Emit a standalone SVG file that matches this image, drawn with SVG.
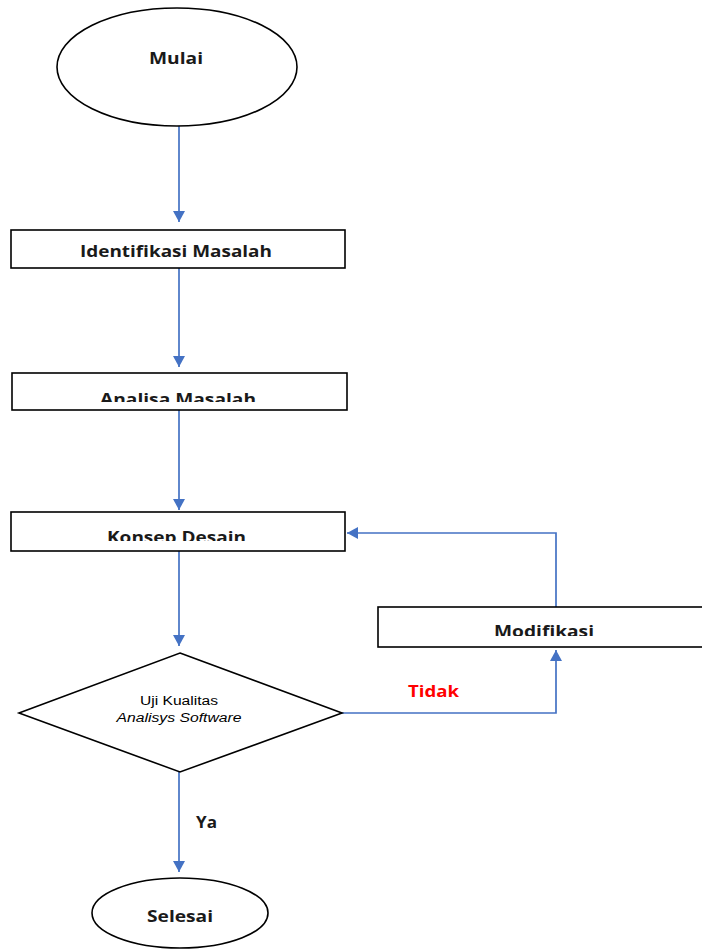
<svg xmlns="http://www.w3.org/2000/svg" width="702" height="951" viewBox="0 0 702 951">
<style>
.shape{fill:#fff;stroke:#000;stroke-width:1.6}
.lbl{font-family:"Open Sans","Liberation Sans",sans-serif;font-weight:700;font-size:16.5px;fill:#1a1a1a;text-anchor:middle}
.small{font-family:"Liberation Sans",Arial,sans-serif;font-size:12px;fill:#000;text-anchor:middle}
.conn{fill:none;stroke:#4472C4;stroke-width:1.7}
</style>
<defs>
<marker id="ah" viewBox="0 0 11 12" refX="11" refY="6" markerWidth="11" markerHeight="12" markerUnits="userSpaceOnUse" orient="auto">
<path d="M0,0 L11,6 L0,12 z" fill="#4472C4"/>
</marker>
<clipPath id="c1"><rect x="0" y="370" width="702" height="32"/></clipPath>
<clipPath id="c2"><rect x="0" y="510" width="702" height="31"/></clipPath>
<clipPath id="c3"><rect x="0" y="605" width="702" height="31"/></clipPath>
</defs>
<g id="connectors">
<line class="conn" x1="179" y1="126" x2="179" y2="222" marker-end="url(#ah)"/>
<line class="conn" x1="179" y1="268" x2="179" y2="367" marker-end="url(#ah)"/>
<line class="conn" x1="179" y1="410" x2="179" y2="510" marker-end="url(#ah)"/>
<line class="conn" x1="179" y1="551" x2="179" y2="646" marker-end="url(#ah)"/>
<line class="conn" x1="179" y1="772" x2="179" y2="872" marker-end="url(#ah)"/>
<polyline class="conn" points="342,713 556,713 556,650" marker-end="url(#ah)"/>
<polyline class="conn" points="556,607 556,533 347,533" marker-end="url(#ah)"/>
<text x="408" y="697" font-family="'Open Sans','Liberation Sans',sans-serif" font-weight="700" font-size="16.5" fill="#ff0000" textLength="51" lengthAdjust="spacingAndGlyphs">Tidak</text>
<text x="196" y="828" font-family="'Open Sans','Liberation Sans',sans-serif" font-weight="700" font-size="16.5" fill="#1a1a1a" textLength="21" lengthAdjust="spacingAndGlyphs">Ya</text>
</g>
<g id="mulai">
<ellipse class="shape" cx="177" cy="67" rx="120" ry="59"/>
<text class="lbl" x="176" y="64" textLength="54" lengthAdjust="spacingAndGlyphs">Mulai</text>
</g>
<g id="identifikasi">
<rect class="shape" x="11" y="230" width="334" height="38"/>
<text class="lbl" x="176" y="257" textLength="192" lengthAdjust="spacingAndGlyphs">Identifikasi Masalah</text>
</g>
<g id="analisa">
<rect class="shape" x="12" y="373" width="335" height="37"/>
<text class="lbl" x="178" y="405" textLength="156" lengthAdjust="spacingAndGlyphs" clip-path="url(#c1)">Analisa Masalah</text>
</g>
<g id="konsep">
<rect class="shape" x="11" y="512" width="334" height="39"/>
<text class="lbl" x="176.5" y="543" textLength="139" lengthAdjust="spacingAndGlyphs" clip-path="url(#c2)">Konsep Desain</text>
</g>
<g id="modifikasi">
<rect class="shape" x="378" y="607" width="340" height="40"/>
<text class="lbl" x="544" y="637" textLength="100" lengthAdjust="spacingAndGlyphs" clip-path="url(#c3)">Modifikasi</text>
</g>
<g id="uji">
<polygon class="shape" points="180,653 342,713 180,772 19,713"/>
<text class="small" x="179" y="705" textLength="78" lengthAdjust="spacingAndGlyphs">Uji Kualitas</text>
<text class="small" x="179" y="722" font-style="italic" textLength="125" lengthAdjust="spacingAndGlyphs">Analisys Software</text>
</g>
<g id="selesai">
<ellipse class="shape" cx="180" cy="913" rx="88" ry="35"/>
<text class="lbl" x="180" y="922" textLength="66" lengthAdjust="spacingAndGlyphs">Selesai</text>
</g>
</svg>
